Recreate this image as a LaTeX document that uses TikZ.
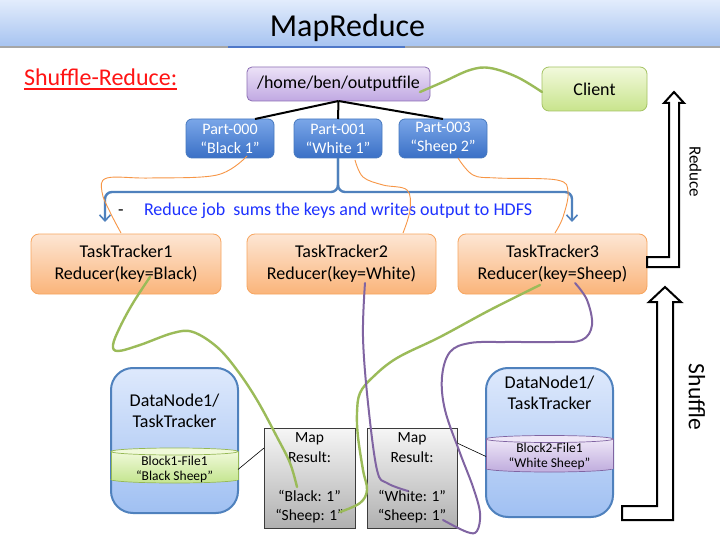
\documentclass[tikz,border=0pt]{standalone}
\usepackage{fontspec}
\setmainfont{Carlito}
\usetikzlibrary{arrows.meta}
\newcommand\myfs[2]{\fontsize{#1}{#2}\selectfont}
\definecolor{titleTop}{RGB}{226,236,252}
\definecolor{titleBot}{RGB}{166,195,240}
\definecolor{titleLine}{RGB}{79,120,200}
\definecolor{partTop}{RGB}{122,166,232}
\definecolor{partBot}{RGB}{58,112,198}
\definecolor{partBorder}{RGB}{70,120,190}
\definecolor{ttTop}{RGB}{253,230,212}
\definecolor{ttBot}{RGB}{250,180,122}
\definecolor{ttBorder}{RGB}{247,165,95}
\definecolor{fileTop}{RGB}{236,226,247}
\definecolor{fileBot}{RGB}{192,168,226}
\definecolor{fileBorder}{RGB}{140,110,180}
\definecolor{clientTop}{RGB}{242,249,220}
\definecolor{clientBot}{RGB}{200,228,140}
\definecolor{clientBorder}{RGB}{165,195,100}
\definecolor{dnTop}{RGB}{222,233,252}
\definecolor{dnBot}{RGB}{160,192,242}
\definecolor{dnBorder}{RGB}{79,129,189}
\definecolor{mapTop}{RGB}{246,246,246}
\definecolor{mapBot}{RGB}{176,176,176}
\definecolor{mapBorder}{RGB}{60,60,60}
\definecolor{cgTop}{RGB}{240,249,218}
\definecolor{cgBot}{RGB}{200,231,150}
\definecolor{cgBorder}{RGB}{150,185,85}
\definecolor{cpTop}{RGB}{238,230,247}
\definecolor{cpBot}{RGB}{196,178,224}
\definecolor{cpBorder}{RGB}{128,100,162}
\definecolor{curveGreen}{RGB}{155,187,89}
\definecolor{curvePurple}{RGB}{128,100,162}
\definecolor{curveOrange}{RGB}{247,150,70}
\definecolor{braceBlue}{RGB}{79,129,189}
\definecolor{blueTxt}{RGB}{30,50,255}
\definecolor{redTxt}{RGB}{255,20,20}
\begin{document}
\begin{tikzpicture}[x=1pt,y=-1pt,
  every node/.style={inner sep=0pt, outer sep=0pt},
  titlebar/.style={rectangle, minimum width=720pt, minimum height=47pt, top color=titleTop, bottom color=titleBot},
  filebox/.style={rectangle, rounded corners=5pt, draw=fileBorder, line width=0.8pt, top color=fileTop, bottom color=fileBot, minimum width=183pt, minimum height=34pt, font=\myfs{18}{21}},
  clientbox/.style={rectangle, rounded corners=7pt, draw=clientBorder, line width=0.8pt, top color=clientTop, bottom color=clientBot, minimum width=105pt, minimum height=44pt, font=\myfs{18}{21}},
  partbox/.style={rectangle, rounded corners=6pt, draw=partBorder, line width=0.8pt, top color=partTop, bottom color=partBot, minimum width=88pt, minimum height=39pt, align=center, text=white, font=\myfs{16}{19}},
  ttbox/.style={rectangle, rounded corners=8pt, draw=ttBorder, line width=0.8pt, top color=ttTop, bottom color=ttBot, minimum width=189pt, minimum height=60pt, align=center, font=\myfs{18}{22}},
  dnbox/.style={rectangle, rounded corners=22pt, draw=dnBorder, line width=2pt, top color=dnTop, bottom color=dnBot, minimum width=127pt},
  mapbox/.style={rectangle, draw=mapBorder, line width=0.8pt, top color=mapTop, bottom color=mapBot, minimum width=91pt, minimum height=100pt, align=center, font=\myfs{15.5}{19.5}},
  cyltext/.style={align=center, font=\myfs{13.5}{15.5}},
  treeline/.style={line width=2pt, black},
  thinline/.style={line width=0.6pt, black},
  brace/.style={draw=braceBlue, line width=2.4pt, rounded corners=7pt, -{Straight Barb[length=6pt,width=11pt,line width=1.6pt]}},
  hollow/.style={draw=black, fill=white, line width=2pt, line join=miter},
  gcurve/.style={draw=curveGreen, line width=2.4pt, line cap=round},
  pcurve/.style={draw=curvePurple, line width=2pt, line cap=round},
  ocurve/.style={draw=curveOrange, line width=0.9pt}
]
\fill[white] (0,0) rectangle (720,540);
\useasboundingbox (0,0) rectangle (720,540);

% title
\node[titlebar] (bar) at (360,23.5) {};
\draw[black!35, line width=1.2pt] (bar.south west) -- (bar.south east);
\fill[titleLine] (228,46) rectangle (405,48.5);
\node[anchor=base, font=\myfs{32}{38}] (title) at (347.5,37) {MapReduce};
\node[anchor=base west, font=\myfs{24}{28}, text=redTxt] (sr) at (24,86) {Shuffle-Reduce:};
\draw[redTxt, line width=1.3pt] ([yshift=-3pt]sr.base west) -- ([yshift=-3pt]sr.base east);

% top boxes
\node[filebox] (outfile) at (338.5,84) {/home/ben/outputfile};
\node[clientbox] (client) at (594.5,89) {Client};
\node[partbox] (p0) at (230,138.5) {Part-000\\“Black 1”};
\node[partbox] (p1) at (338,138.5) {Part-001\\“White 1”};
\node[partbox] (p3) at (443,138.5) {Part-003\\“Sheep 2”};
\draw[treeline] (outfile.south) -- ([xshift=25pt]p0.north);
\draw[treeline] (outfile.south) -- (p1.north);
\draw[treeline] (outfile.south) -- (p3.north);

% reducers
\node[ttbox, minimum width=190pt] (tt1) at (126,264) {TaskTracker1\\Reducer(key=Black)};
\node[ttbox] (tt2) at (341.5,264) {TaskTracker2\\Reducer(key=White)};
\node[ttbox] (tt3) at (552.5,264) {TaskTracker3\\Reducer(key=Sheep)};

% brace
\draw[brace] (p1.south) -- (338,192) -- (105,192) -- (105,222);
\draw[brace] (p1.south) -- (338,192) -- (572,192) -- (572,222);
\node[anchor=base west, font=\myfs{18}{21}] (dash) at (118,215) {-};
\node[anchor=base west, font=\myfs{18}{21}, text=blueTxt] (job) at (144,215) {Reduce job\ \ sums the keys and writes output to HDFS};

% data nodes
\node[dnbox, minimum height=145pt] (dn1) at (174.5,440.5) {};
\node[align=center, font=\myfs{18}{21}] (dn1t) at (174.5,411) {DataNode1/\\TaskTracker};
\node[dnbox, minimum height=149pt] (dn2) at (549.5,442.5) {};
\node[align=center, font=\myfs{18}{21}] (dn2t) at (549.5,393) {DataNode1/\\TaskTracker};

% cylinder 1
\filldraw[fill=cgBot, draw=cgBorder, line width=0.7pt] (174.5,479.5) ellipse[x radius=63.5, y radius=3.5];
\shade[top color=cgTop, bottom color=cgBot] (111,451.5) rectangle (238,479.5);
\draw[cgBorder, line width=0.7pt] (111,451.5) -- (111,479.5) (238,451.5) -- (238,479.5);
\filldraw[fill=cgTop, draw=cgBorder, line width=0.7pt] (174.5,451.5) ellipse[x radius=63.5, y radius=3.5];
\node[cyltext] (cyl1) at (174.5,469.5) {Block1-File1\\“Black Sheep”};

% cylinder 2
\filldraw[fill=cpBot, draw=cpBorder, line width=0.7pt] (549.5,468.5) ellipse[x radius=63.5, y radius=3.5];
\shade[top color=cpTop, bottom color=cpBot] (486,439) rectangle (613,468.5);
\draw[cpBorder, line width=0.7pt] (486,439) -- (486,468.5) (613,439) -- (613,468.5);
\filldraw[fill=cpTop, draw=cpBorder, line width=0.7pt] (549.5,439) ellipse[x radius=63.5, y radius=3.5];
\node[cyltext] (cyl2) at (549.5,456.5) {Block2-File1\\“White Sheep”};

% map results
\node[mapbox] (m1) at (309.5,478) {Map\\Result:\\\mbox{}\\“Black: 1”\\“Sheep: 1”};
\node[mapbox, minimum width=90pt] (m2) at (412,478) {Map\\Result:\\\mbox{}\\“White: 1”\\“Sheep: 1”};
\draw[thinline] (dn1.east |- cyl1) -- ([yshift=30pt]m1.west);
\draw[thinline] ([yshift=35pt]m2.east) -- (dn2.west |- cyl2);

% hollow arrows
\draw[hollow] (tt3.east |- 0,257) -- (669,257) -- (669,103) -- (664,103) -- (674,92) -- (684,103) -- (679,103) -- (679,267) -- (tt3.east |- 0,267) -- cycle;
\draw[hollow] (622,506) -- (657,506) -- (657,302) -- (649,302) -- (665,287) -- (681,302) -- (673,302) -- (673,520) -- (622,520) -- cycle;
\node[rotate=-90, font=\myfs{17}{20}] (redlbl) at (695.5,172) {Reduce};
\node[rotate=-90, font=\myfs{23.5}{28}] (shlbl) at (697,397) {Shuffle};

% curves
\draw[gcurve] plot[smooth, tension=0.6] coordinates {(420,92) (443,82) (470,70) (490,68) (517,77) (542,92)};
\draw[ocurve] plot[smooth, tension=0.6] coordinates {(247,156) (217,175) (150,178) (107,178) (102,192) (110,212) (121,233)};
\draw[ocurve] plot[smooth, tension=0.6] coordinates {(355,160) (363,177) (383,185) (407,190) (410,210) (403,233)};
\draw[ocurve] plot[smooth, tension=0.6] coordinates {(458,158) (473,175) (497,178) (557,180) (568,192) (563,217) (555,233)};
\draw[gcurve] plot[smooth, tension=0.6] coordinates {(150,277) (133,303) (120,327) (113,345) (118,351) (140,345) (173,333) (193,332) (217,347) (237,370) (257,400) (277,437) (290,463) (297,487)};
\draw[gcurve] plot[smooth, tension=0.6] coordinates {(540,285) (490,310) (440,337) (397,358) (373,377) (360,393) (357,413) (358,437) (363,470) (367,490) (360,503) (340,512)};
\draw[pcurve] plot[smooth, tension=0.6] coordinates {(365,283) (363,337) (368,403) (377,470) (387,483) (408,491)};
\draw[pcurve] plot[smooth, tension=0.6] coordinates {(575,283) (587,300) (592,325) (582,340) (555,342) (505,342) (470,343) (450,352) (442,377) (445,410) (460,453) (473,487) (480,513) (477,531) (467,532) (443,520)};
\end{tikzpicture}
\end{document}
